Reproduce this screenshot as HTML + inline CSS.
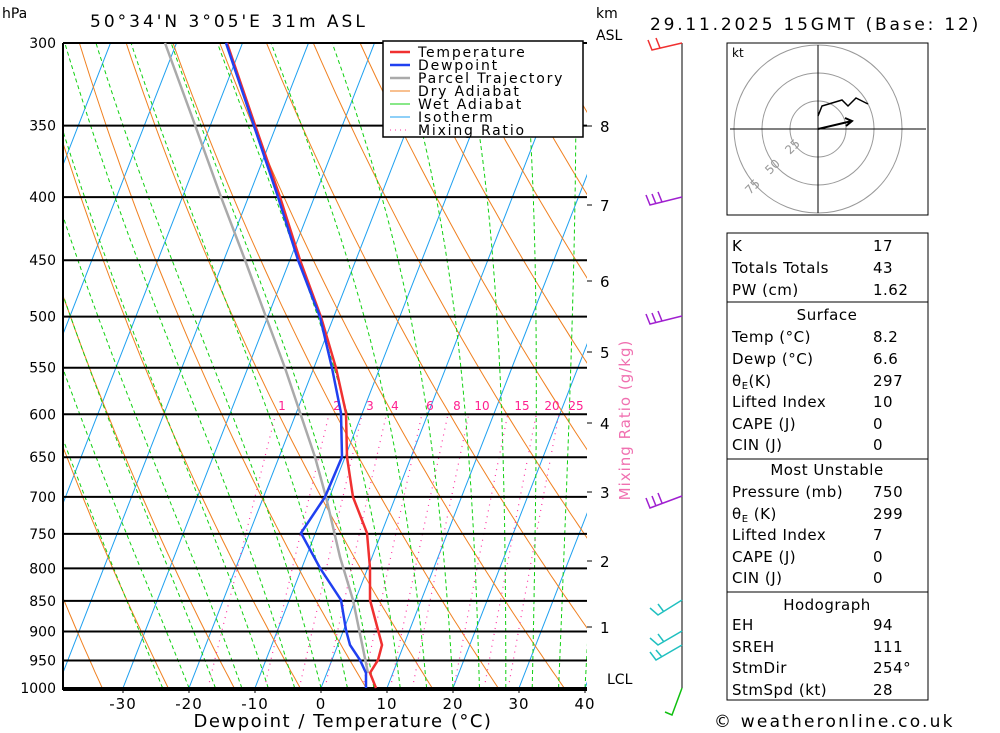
<!DOCTYPE html>
<html><head><meta charset="utf-8"><style>
body{margin:0;background:#fff;width:1000px;height:733px;overflow:hidden;font-family:"DejaVu Sans",sans-serif}
svg{position:absolute;left:0;top:0}
text{font-family:"DejaVu Sans",sans-serif}
</style></head><body>
<svg id="s" width="1000" height="733" xmlns="http://www.w3.org/2000/svg">
<defs><clipPath id="c"><rect x="63" y="43" width="524" height="645"/></clipPath></defs>
<g id="bg" clip-path="url(#c)"></g>
<g id="fg"></g>
</svg>
<script>
const S=document.getElementById('s'),bg=document.getElementById('bg'),fg=document.getElementById('fg');
const Y=p=>43+535.7*Math.log(p/300);
const X=(T,p)=>321+6.6*T+0.39*(688-Y(p));
function path(g,pts,st){const e=document.createElementNS('http://www.w3.org/2000/svg','path');e.setAttribute('d','M'+pts.map(q=>q[0].toFixed(1)+','+q[1].toFixed(1)).join('L'));e.setAttribute('fill','none');for(const k in st)e.setAttribute(k,st[k]);g.appendChild(e);}
function txt(g,x,y,t,st){const e=document.createElementNS('http://www.w3.org/2000/svg','text');e.setAttribute('x',x);e.setAttribute('y',y);e.textContent=t;for(const k in st)e.setAttribute(k,st[k]);g.appendChild(e);}
for(let T=-120;T<=50;T+=10)path(bg,[[X(T,1000),Y(1000)],[X(T,250),Y(250)]],{stroke:'#1ea0f0','stroke-width':1});
for(let th=230;th<=480;th+=10){let a=[];for(let p=1000;p>=290;p-=10){a.push([X(th*Math.pow(p/1000,0.286)-273.15,p),Y(p)]);}path(bg,a,{stroke:'#f08020','stroke-width':1});}
const es=t=>6.112*Math.exp(17.67*t/(t+243.5));
for(let T0=-24;T0<=44;T0+=4){let T=T0+273.15,a=[[X(T0,1000),Y(1000)]];for(let p=1000;p>290;p-=2){const tc=T-273.15,e=es(tc),rs=0.622*e/(p-e);const d=(287*T+2.5e6*rs)/(p*(1005+2.5e6*2.5e6*rs*0.622/(287*T*T)));T-=d*2;a.push([X(T-273.15,p-2),Y(p-2)]);}path(bg,a,{stroke:'#10d010','stroke-width':1,'stroke-dasharray':'4,3'});}
const lx={1:282,2:337,3:370,4:395,6:430,8:457,10:482,15:522,20:552,25:576};
[1,2,3,4,6,8,10,15,20,25].forEach(w=>{let a=[];for(let p=1000;p>=600;p-=20){const e=w/1000*p/(0.622+w/1000),l=Math.log(e/6.112),t=243.5*l/(17.67-l);a.push([X(t,p),Y(p)]);}path(bg,a,{stroke:'#ff30a0','stroke-width':1.2,'stroke-dasharray':'1,5'});txt(fg,lx[w],410,String(w),{fill:'#ff2090','font-size':12,'text-anchor':'middle'});});
for(let p=300;p<=1000;p+=50){path(fg,[[63,Y(p)],[587,Y(p)]],{stroke:'#000','stroke-width':2});txt(fg,56,Y(p)+5,String(p),{'font-size':14,'text-anchor':'end'});}
path(fg,[[63,43],[63,690]],{stroke:'#000','stroke-width':2});
path(fg,[[63,690],[587,690]],{stroke:'#000','stroke-width':2});
const tp=[[227,43],[255,125],[280,197],[300,260],[321,317],[336,368],[346,413],[347,457],[353,497],[367,533],[370,568],[370,600],[378,630],[382,645],[378,660],[370,673],[376,688]];
const dp=[[226,43],[278,197],[298,260],[320,317],[332,368],[341,413],[342,457],[325,497],[301,533],[320,568],[341,600],[346,630],[350,645],[360,660],[366,673],[366,688]];
const pp=[[165,43],[195,125],[221,197],[245,260],[266,317],[285,368],[315,457],[326,497],[340,557],[353,600],[368,673]];
path(fg,pp,{stroke:'#aaa','stroke-width':2.5});
path(fg,tp,{stroke:'#f03030','stroke-width':2.5});
path(fg,dp,{stroke:'#2040f0','stroke-width':2.5});
[-30,-20,-10,0,10,20,30,40].forEach((t,i)=>{const x=321+6.6*t;path(fg,[[x,688],[x,693]],{stroke:'#000'});txt(fg,x,709,String(t),{'font-size':15,'text-anchor':'middle','letter-spacing':'1'});});
[[8,126],[7,205],[6,281],[5,352],[4,423],[3,492],[2,561],[1,627]].forEach(k=>{txt(fg,600,k[1]+6,String(k[0]),{'font-size':15});path(fg,[[587,k[1]],[592,k[1]]],{stroke:'#000'});});
</script>
<svg width="1000" height="733" style="position:absolute;left:0;top:0" xmlns="http://www.w3.org/2000/svg" font-family="DejaVu Sans, sans-serif">
<rect x="383" y="41" width="200" height="96" fill="#fff" stroke="#000" stroke-width="1.5"/>
<g font-size="14" letter-spacing="1.8">
<line x1="390" y1="52" x2="410" y2="52" stroke="#f03030" stroke-width="2.5"/><text x="418" y="57">Temperature</text>
<line x1="390" y1="65" x2="410" y2="65" stroke="#2040f0" stroke-width="2.5"/><text x="418" y="70">Dewpoint</text>
<line x1="390" y1="78" x2="410" y2="78" stroke="#aaa" stroke-width="2.5"/><text x="418" y="83">Parcel Trajectory</text>
<line x1="390" y1="91" x2="410" y2="91" stroke="#f08020"/><text x="418" y="96">Dry Adiabat</text>
<line x1="390" y1="104" x2="410" y2="104" stroke="#10d010"/><text x="418" y="109">Wet Adiabat</text>
<line x1="390" y1="117" x2="410" y2="117" stroke="#1ea0f0"/><text x="418" y="122">Isotherm</text>
<line x1="390" y1="130" x2="410" y2="130" stroke="#ff30a0" stroke-dasharray="1,4"/><text x="418" y="135">Mixing Ratio</text>
</g>
<text x="2" y="18" font-size="14">hPa</text>
<text x="90" y="27" font-size="17" letter-spacing="3">50°34'N  3°05'E  31m  ASL</text>
<text x="596" y="18" font-size="14">km</text><text x="596" y="40" font-size="14">ASL</text>
<text x="650" y="30" font-size="17" letter-spacing="2.8">29.11.2025 15GMT (Base: 12)</text>
<text x="607" y="684" font-size="14">LCL</text>
<text x="343" y="727" font-size="18" text-anchor="middle" letter-spacing="1.5">Dewpoint / Temperature (°C)</text>
<text x="630" y="420" font-size="15" fill="#f070b0" transform="rotate(-90 630 420)" text-anchor="middle" letter-spacing="1">Mixing Ratio (g/kg)</text>
<text x="714" y="727" font-size="17" letter-spacing="2.2">© weatheronline.co.uk</text>
<line x1="682" y1="43" x2="682" y2="688" stroke="#000"/>
<g stroke-width="1.5" fill="none">
<path d="M682 43 L652 50 L648 40 M660 48 L656 38" stroke="#f03030"/>
<path d="M682 197 L650 205 L646 195 M656 204 L652 194 M662 202 L658 192" stroke="#a020d0"/>
<path d="M682 316 L650 324 L646 314 M656 323 L652 313 M662 321 L658 311" stroke="#a020d0"/>
<path d="M682 496 L650 508 L646 498 M656 506 L652 496 M662 503 L658 493" stroke="#a020d0"/>
<path d="M682 600 L658 615 L650 608 M664 612 L658 604" stroke="#20c0c0"/>
<path d="M682 631 L658 645 L650 638 M664 642 L658 634" stroke="#20c0c0"/>
<path d="M682 645 L656 660 L650 652 M662 657 L656 650" stroke="#20c0c0"/>
<path d="M682 688 L672 715 L665 712" stroke="#10c010"/>
</g>
<rect x="727" y="43" width="201" height="172" fill="none" stroke="#000"/>
<text x="732" y="57" font-size="12">kt</text>
<g fill="none" stroke="#999"><circle cx="818" cy="129" r="28"/><circle cx="818" cy="129" r="56"/><circle cx="818" cy="129" r="84"/></g>
<g stroke="#000"><line x1="730" y1="129" x2="926" y2="129"/><line x1="818" y1="45" x2="818" y2="213"/></g>
<text x="790" y="155" font-size="12" fill="#999" transform="rotate(-45 790 155)">25</text>
<text x="770" y="175" font-size="12" fill="#999" transform="rotate(-45 770 175)">50</text>
<text x="750" y="195" font-size="12" fill="#999" transform="rotate(-45 750 195)">75</text>
<path d="M818 116 L822 106 L842 100 L848 106 L856 98 L868 104" stroke="#000" fill="none" stroke-width="1.5"/>
<path d="M818 129 L852 121 M845 118 L852 121 L846 126" stroke="#000" fill="none" stroke-width="2"/>
<rect x="727" y="233" width="201" height="467" fill="none" stroke="#000"/>
<g stroke="#000"><line x1="727" y1="302" x2="928" y2="302"/><line x1="727" y1="459" x2="928" y2="459"/><line x1="727" y1="592" x2="928" y2="592"/></g>
<g font-size="15" letter-spacing="0.5">
<text x="732" y="251">K</text><text x="873" y="251">17</text>
<text x="732" y="273">Totals Totals</text><text x="873" y="273">43</text>
<text x="732" y="295">PW (cm)</text><text x="873" y="295">1.62</text>
<text x="827" y="320" text-anchor="middle">Surface</text>
<text x="732" y="342">Temp (°C)</text><text x="873" y="342">8.2</text>
<text x="732" y="364">Dewp (°C)</text><text x="873" y="364">6.6</text>
<text x="732" y="386">θ<tspan font-size="10" dy="3">E</tspan><tspan dy="-3">(K)</tspan></text><text x="873" y="386">297</text>
<text x="732" y="407">Lifted Index</text><text x="873" y="407">10</text>
<text x="732" y="429">CAPE (J)</text><text x="873" y="429">0</text>
<text x="732" y="450">CIN (J)</text><text x="873" y="450">0</text>
<text x="827" y="475" text-anchor="middle">Most Unstable</text>
<text x="732" y="497">Pressure (mb)</text><text x="873" y="497">750</text>
<text x="732" y="519">θ<tspan font-size="10" dy="3">E</tspan><tspan dy="-3"> (K)</tspan></text><text x="873" y="519">299</text>
<text x="732" y="540">Lifted Index</text><text x="873" y="540">7</text>
<text x="732" y="562">CAPE (J)</text><text x="873" y="562">0</text>
<text x="732" y="583">CIN (J)</text><text x="873" y="583">0</text>
<text x="827" y="610" text-anchor="middle">Hodograph</text>
<text x="732" y="630">EH</text><text x="873" y="630">94</text>
<text x="732" y="652">SREH</text><text x="873" y="652">111</text>
<text x="732" y="673">StmDir</text><text x="873" y="673">254°</text>
<text x="732" y="695">StmSpd (kt)</text><text x="873" y="695">28</text>
</g>
</svg>
</body></html>
